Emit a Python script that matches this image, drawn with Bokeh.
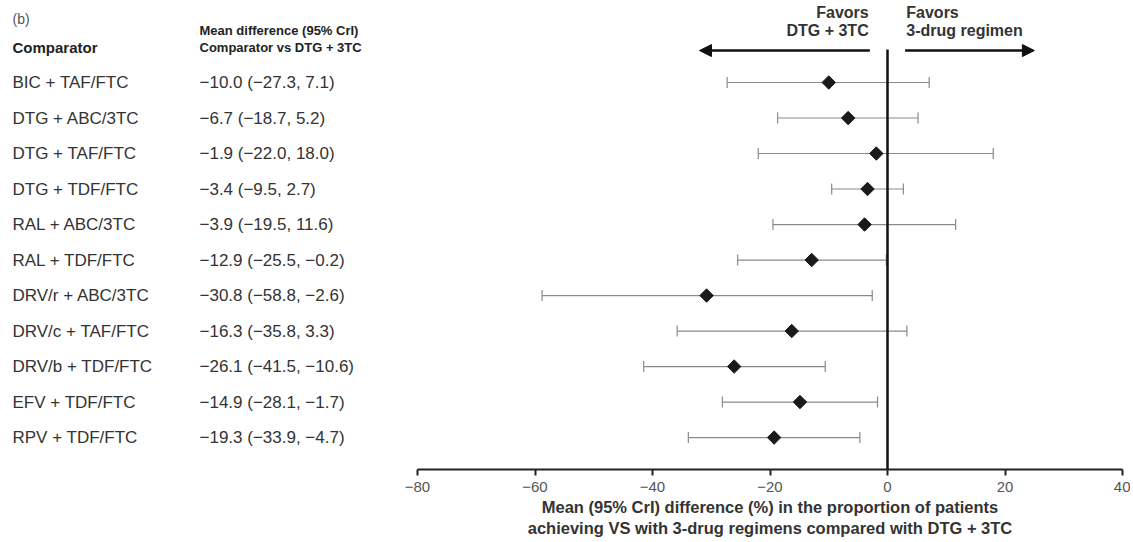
import math
from bokeh.plotting import figure
from bokeh.layouts import row
from bokeh.models import (Range1d, LinearAxis, FixedTicker, Whisker, TeeHead, Arrow,
                          NormalHead, ColumnDataSource)
from bokeh.core.properties import value
from bokeh.embed import file_html
from bokeh.resources import INLINE

# ---- data ----
comparators = ["BIC + TAF/FTC", "DTG + ABC/3TC", "DTG + TAF/FTC", "DTG + TDF/FTC",
               "RAL + ABC/3TC", "RAL + TDF/FTC", "DRV/r + ABC/3TC", "DRV/c + TAF/FTC",
               "DRV/b + TDF/FTC", "EFV + TDF/FTC", "RPV + TDF/FTC"]
means = [-10.0, -6.7, -1.9, -3.4, -3.9, -12.9, -30.8, -16.3, -26.1, -14.9, -19.3]
lower = [-27.3, -18.7, -22.0, -9.5, -19.5, -25.5, -58.8, -35.8, -41.5, -28.1, -33.9]
upper = [7.1, 5.2, 18.0, 2.7, 11.6, -0.2, -2.6, 3.3, -10.6, -1.7, -4.7]
tick_vals = [-80, -60, -40, -20, 0, 20, 40]

def fmt(v):
    return f"{v:.1f}".replace("-", "\u2212")

ci_text = [f"{fmt(m)} ({fmt(l)}, {fmt(u)})" for m, l, u in zip(means, lower, upper)]
ys = [-i for i in range(len(comparators))]

src = ColumnDataSource(dict(y=ys, mean=means, lower=lower, upper=upper,
                            comp=comparators, ci=ci_text))

FONT = "Liberation Sans"
Y0 = -10.90
YTOP = 2.31
H = 542
BOTTOM = 73
yr = Range1d(Y0, YTOP)

# ---- left text table (x in pixels) ----
left = figure(width=400, height=H, output_backend="svg", toolbar_location=None,
              x_range=Range1d(0, 400), y_range=yr, x_axis_type=None, y_axis_type=None,
              min_border_left=0, min_border_right=0, min_border_top=0,
              min_border_bottom=BOTTOM)
left.outline_line_color = None

left.text(x=12, y="y", text="comp", source=src, text_font=value(FONT),
          text_font_size="17px", text_baseline="middle", text_color="#333")
left.text(x=199, y="y", text="ci", source=src, text_font=value(FONT),
          text_font_size="17px", text_baseline="middle", text_color="#333")

def hdr(fig, x, y, t, bold=True, align="left", color="#222", size="13px"):
    fig.text(x=[x], y=[y], text=[t], text_font=value(FONT), text_font_size=size,
             text_font_style="bold" if bold else "normal", text_baseline="middle",
             text_align=align, text_color=color)

hdr(left, 12, 1.775, "(b)", bold=False, color="#555", size="14px")
hdr(left, 12, 0.986, "Comparator", size="15px")
hdr(left, 199, 1.465, "Mean difference (95% CrI)")
hdr(left, 199, 0.986, "Comparator vs DTG + 3TC")

# ---- forest plot ----
p = figure(width=730, height=H, output_backend="svg", toolbar_location=None,
           x_range=Range1d(tick_vals[0], tick_vals[-1]), y_range=yr,
           x_axis_type=None, y_axis_type=None,
           min_border_left=17, min_border_right=8, min_border_top=0,
           min_border_bottom=BOTTOM)
p.outline_line_color = None

ax = LinearAxis(ticker=FixedTicker(ticks=tick_vals),
                major_label_overrides={v: str(v).replace("-", "\u2212") for v in tick_vals},
                axis_line_width=2, axis_line_color="#222",
                major_tick_in=0, major_tick_out=6, major_tick_line_width=2,
                major_tick_line_color="#222", minor_tick_line_color=None,
                major_label_text_font=FONT, major_label_text_font_size="15px",
                major_label_text_color="#555", major_label_standoff=6,
                axis_label="Mean (95% CrI) difference (%) in the proportion of patients\n"
                           "achieving VS with 3-drug regimens compared with DTG + 3TC",
                axis_label_text_font=FONT, axis_label_text_font_size="16.5px",
                axis_label_text_font_style="bold", axis_label_text_color="#333",
                axis_label_standoff=3)
p.add_layout(ax, "below")

# zero line
p.segment(x0=[0], y0=[Y0], x1=[0], y1=[0.93], line_width=2.5, line_color="#111")

# error bars
p.add_layout(Whisker(source=src, base="y", lower="lower", upper="upper", dimension="width",
                     line_color="#8a8a8a", line_width=1.2,
                     lower_head=TeeHead(size=11, line_color="#8a8a8a", line_width=1.2),
                     upper_head=TeeHead(size=11, line_color="#8a8a8a", line_width=1.2)))
p.scatter(x="mean", y="y", source=src, marker="square", angle=math.pi / 4, size=9.5,
          fill_color="#1a1a1a", line_color="#1a1a1a")

hdr(p, -3.2, 1.97, "Favors", align="right", color="#333", size="16px")
hdr(p, -3.2, 1.465, "DTG + 3TC", align="right", color="#333", size="16px")
hdr(p, 3.2, 1.97, "Favors", color="#333", size="16px")
hdr(p, 3.2, 1.465, "3-drug regimen", color="#333", size="16px")

# arrows
p.add_layout(Arrow(end=NormalHead(size=12, fill_color="#111", line_color="#111"),
                   x_start=-3.0, y_start=0.9, x_end=-32.0, y_end=0.9,
                   line_width=2.5, line_color="#111"))
p.add_layout(Arrow(end=NormalHead(size=12, fill_color="#111", line_color="#111"),
                   x_start=3.0, y_start=0.9, x_end=25.0, y_end=0.9,
                   line_width=2.5, line_color="#111"))

layout = row(left, p, spacing=0)
open("out.html", "w").write(file_html(layout, INLINE))
